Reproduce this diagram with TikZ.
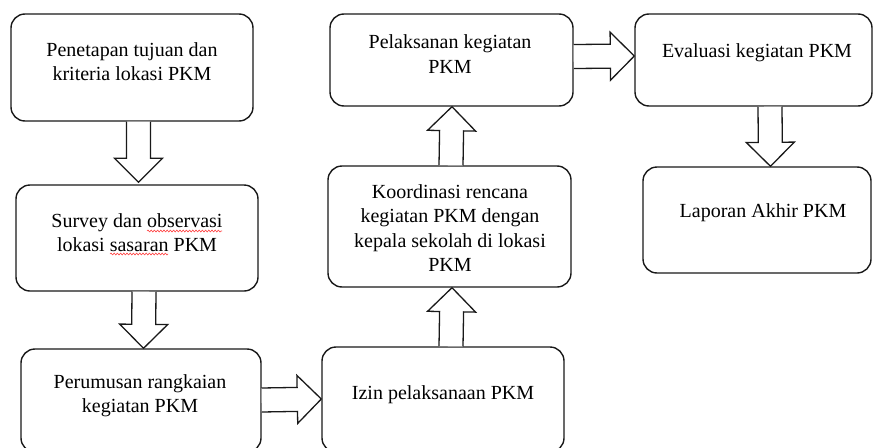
\documentclass[tikz,border=0pt]{standalone}
\usepackage{fontspec}
\setmainfont{Liberation Serif}
\usetikzlibrary{calc,decorations.pathmorphing}
\tikzset{
  box/.style={draw=black!90, line width=1.4pt, rounded corners=14pt, fill=white, inner sep=0pt},
  txt/.style={align=center, text=black, font=\fontsize{20}{24.5}\selectfont, inner sep=0pt},
  barrow/.style={draw=black!90, line width=1.3pt, fill=white, line join=miter,
    to path={
      ($(\tikztostart)!12pt!90:(\tikztotarget)$)
      -- ($($(\tikztotarget)!24pt!(\tikztostart)$)!12pt!-90:(\tikztostart)$)
      -- ($($(\tikztotarget)!24pt!(\tikztostart)$)!24pt!-90:(\tikztostart)$)
      -- (\tikztotarget)
      -- ($($(\tikztotarget)!24pt!(\tikztostart)$)!24pt!90:(\tikztostart)$)
      -- ($($(\tikztotarget)!24pt!(\tikztostart)$)!12pt!90:(\tikztostart)$)
      -- ($(\tikztostart)!12pt!-90:(\tikztotarget)$)
    }},
  squiggle/.style={draw=red!75, line width=0.6pt, decorate,
    decoration={snake, amplitude=0.9pt, segment length=3.2pt}}
}
\begin{document}
\begin{tikzpicture}[x=1pt, y=-1pt]
\useasboundingbox (0,0) rectangle (875,447);
\clip (0,0) rectangle (875,447);
% boxes
\node[box, minimum width=242pt, minimum height=107pt] (b1) at (132,67.5) {};
\node[box, minimum width=242pt, minimum height=106pt] (b2) at (137,238) {};
\node[box, minimum width=240pt, minimum height=103pt] (b3) at (141,400.5) {};
\node[box, minimum width=242pt, minimum height=105pt] (b4) at (443,399.5) {};
\node[box, minimum width=243pt, minimum height=121pt] (b5) at (449.5,226.5) {};
\node[box, minimum width=243pt, minimum height=92pt] (b6) at (451.5,60) {};
\node[box, minimum width=237pt, minimum height=92pt] (b7) at (753.5,60) {};
\node[box, minimum width=228pt, minimum height=106pt] (b8) at (757,220) {};
% texts
\node[txt] (t1) at (132,61.5) {Penetapan tujuan dan\\kriteria lokasi PKM};
\node[txt] (t2) at (137,232.5) {Survey dan observasi\\lokasi sasaran PKM};
\node[txt] (t3) at (140,395.5) {Perumusan rangkaian\\kegiatan PKM};
\node[txt] (t4) at (443,395) {Izin pelaksanaan PKM};
\node[txt] (t5) at (450,228) {Koordinasi rencana\\kegiatan PKM dengan\\kepala sekolah di lokasi\\PKM};
\node[txt] (t6) at (450,54) {Pelaksanan kegiatan\\PKM};
\node[txt] (t7) at (757,53) {Evaluasi kegiatan PKM};
\node[txt] (t8) at (763,213) {Laporan Akhir PKM};
% spell-check underlines
\draw[squiggle] (147,231) -- (222,231);
\draw[squiggle] (110,254) -- (168,254);
% block arrows
\draw[barrow] ($(b1.south)+(6.5,0)$) to ($(b2.north)+(1.5,-2)$);
\draw[barrow] ($(b2.south)+(7,0)$) to ($(b3.north)+(2.5,0)$);
\draw[barrow] ($(b3.east)+(0,-0.5)$) to ($(b4.west)+(0,-0.5)$);
\draw[barrow] ($(b4.north)+(8,0)$) to ($(b5.south)+(2.5,0)$);
\draw[barrow] ($(b5.north)+(1.5,0)$) to ($(b6.south)+(0.5,0)$);
\draw[barrow] ($(b6.east)+(0,-3.5)$) to ($(b7.west)+(0,-4)$);
\draw[barrow] ($(b7.south)+(16.5,0)$) to ($(b8.north)+(13.5,0)$);
\end{tikzpicture}
\end{document}
